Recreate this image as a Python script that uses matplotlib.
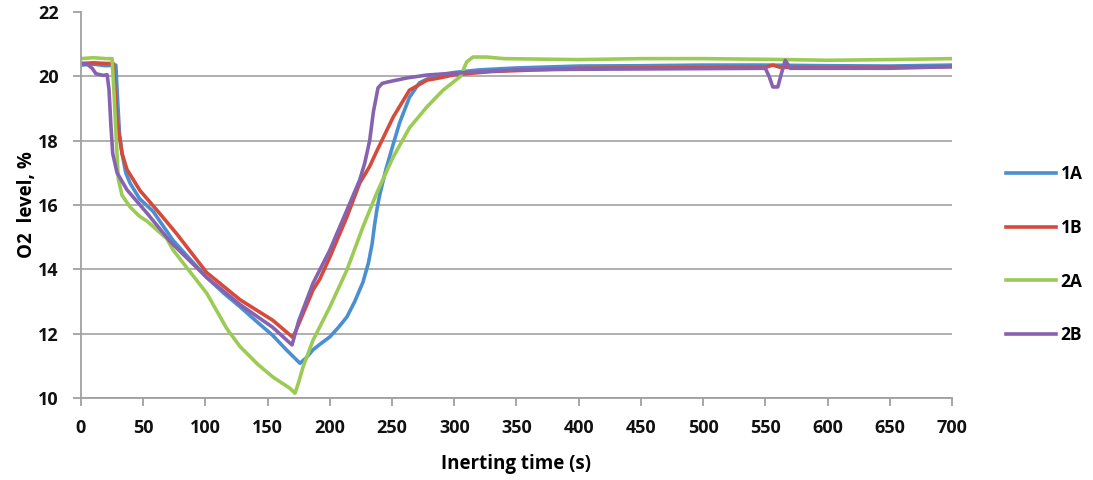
import matplotlib.pyplot as plt

# 1A
t_1a = [0, 10, 20, 28, 29.5, 31, 33, 36, 39.4, 47, 58, 74, 88, 101, 115, 128, 142, 154, 165, 176,
        181, 186.5, 193, 200, 207, 213.7, 220, 226.6, 231, 234, 236, 238, 240, 245, 251, 256, 264,
        272, 280, 290, 300, 320, 350, 400, 450, 500, 550, 600, 650, 700]
o2_1a = [20.35, 20.38, 20.33, 20.35, 19.2, 18.2, 17.6, 17.0, 16.68, 16.2, 15.8, 14.9, 14.3, 13.75,
         13.25, 12.83, 12.35, 11.95, 11.5, 11.08, 11.25, 11.5, 11.7, 11.9, 12.2, 12.52, 13.0, 13.6,
         14.2, 14.8, 15.4, 15.9, 16.3, 17.1, 17.9, 18.55, 19.35, 19.8, 19.95, 20.05, 20.12, 20.2,
         20.26, 20.32, 20.33, 20.35, 20.35, 20.33, 20.32, 20.35]

# 1B
t_1b = [0, 10, 20, 26, 27.5, 29, 33, 37, 47.4, 63, 77, 101, 128, 154, 170.4, 186.5, 192, 200,
        213.7, 224, 232, 238, 251, 264, 278, 288, 300, 330, 400, 500, 550, 556, 562, 600, 700]
o2_1b = [20.4, 20.42, 20.4, 20.4, 19.5, 18.6, 17.6, 17.1, 16.45, 15.75, 15.1, 13.9, 13.05, 12.42,
         11.88, 13.36, 13.7, 14.38, 15.63, 16.68, 17.2, 17.7, 18.74, 19.57, 19.88, 19.95, 20.05,
         20.15, 20.25, 20.27, 20.28, 20.35, 20.28, 20.27, 20.3]

# 2A
t_2a = [0, 10, 20, 25, 26.5, 28, 30, 33, 39.4, 47, 53, 69, 74, 101, 117.3, 127.8, 142, 154.3, 168,
        172, 175, 178.4, 186.5, 200, 213.7, 226.6, 238, 251, 264, 278, 291, 305, 310, 315, 326,
        340, 400, 450, 500, 550, 600, 650, 700]
o2_2a = [20.55, 20.58, 20.55, 20.55, 19.5, 18.3, 16.8, 16.3, 15.94, 15.65, 15.5, 14.95, 14.6,
         13.26, 12.15, 11.6, 11.05, 10.65, 10.3, 10.15, 10.5, 10.96, 11.8, 12.83, 13.98, 15.32,
         16.4, 17.5, 18.4, 19.05, 19.57, 20.0, 20.45, 20.6, 20.6, 20.55, 20.52, 20.55, 20.55,
         20.53, 20.5, 20.52, 20.55]

# 2B
t_2b = [0, 5, 9, 12, 18, 21, 22.5, 24, 25.5, 29, 37, 53, 72, 101, 128, 154, 169.6, 175, 186.5, 200,
        213.7, 224, 228, 232, 235, 238.7, 242, 246, 262, 278, 300, 350, 400, 500, 550, 553, 556,
        560, 563, 566, 570, 600, 650, 700]
o2_2b = [20.4, 20.38, 20.25, 20.08, 20.03, 20.05, 19.6, 18.5, 17.6, 17.0, 16.47, 15.75, 14.85,
         13.75, 12.9, 12.2, 11.65, 12.4, 13.57, 14.6, 15.84, 16.78, 17.3, 18.0, 18.9, 19.64, 19.78,
         19.82, 19.95, 20.04, 20.1, 20.2, 20.22, 20.24, 20.25, 20.0, 19.67, 19.67, 20.1, 20.5,
         20.25, 20.25, 20.25, 20.3]

plt.rcParams['font.family'] = ['Open Sans', 'DejaVu Sans']
plt.rcParams['font.weight'] = 'bold'

fig = plt.figure(figsize=(10.93, 4.8), dpi=100)
ax = fig.add_axes([0.0741, 0.1708, 0.7969, 0.8042])

ax.plot(t_1a, o2_1a, color='#4a8fd2', lw=2.6, label='1A')
ax.plot(t_1b, o2_1b, color='#d64a3c', lw=2.6, label='1B')
ax.plot(t_2a, o2_2a, color='#9ccb55', lw=2.6, label='2A')
ax.plot(t_2b, o2_2b, color='#8762b0', lw=2.6, label='2B')

ax.set_xlim(0, 700)
ax.set_ylim(10, 22)
ax.set_xticks(range(0, 701, 50))
ax.set_yticks(range(10, 23, 2))
ax.grid(axis='y', color='#a9a9a9', lw=1.3)
ax.get_ygridlines()[-1].set_visible(False)
ax.set_axisbelow(True)
for s in ['top', 'right']:
    ax.spines[s].set_visible(False)
for s in ['left', 'bottom']:
    ax.spines[s].set_color('#a0a0a0')
    ax.spines[s].set_linewidth(1.3)
ax.tick_params(colors='#a0a0a0', width=1.3, length=6, labelcolor='#111111', labelsize=13)
ax.tick_params(axis='y', pad=10)
ax.tick_params(axis='x', pad=9)

ax.set_xlabel('Inerting time (s)', fontsize=13.5, fontweight='bold', labelpad=12)
ax.set_ylabel('O2  level, %', fontsize=13.5, fontweight='bold')
ax.yaxis.set_label_coords(-0.050, 0.5)

fig.legend(loc='upper left', bbox_to_anchor=(0.906, 0.688), frameon=False, fontsize=12.5,
           handlelength=2.9, handletextpad=0.25, labelspacing=2.05)

plt.savefig('out.png', dpi=100)
